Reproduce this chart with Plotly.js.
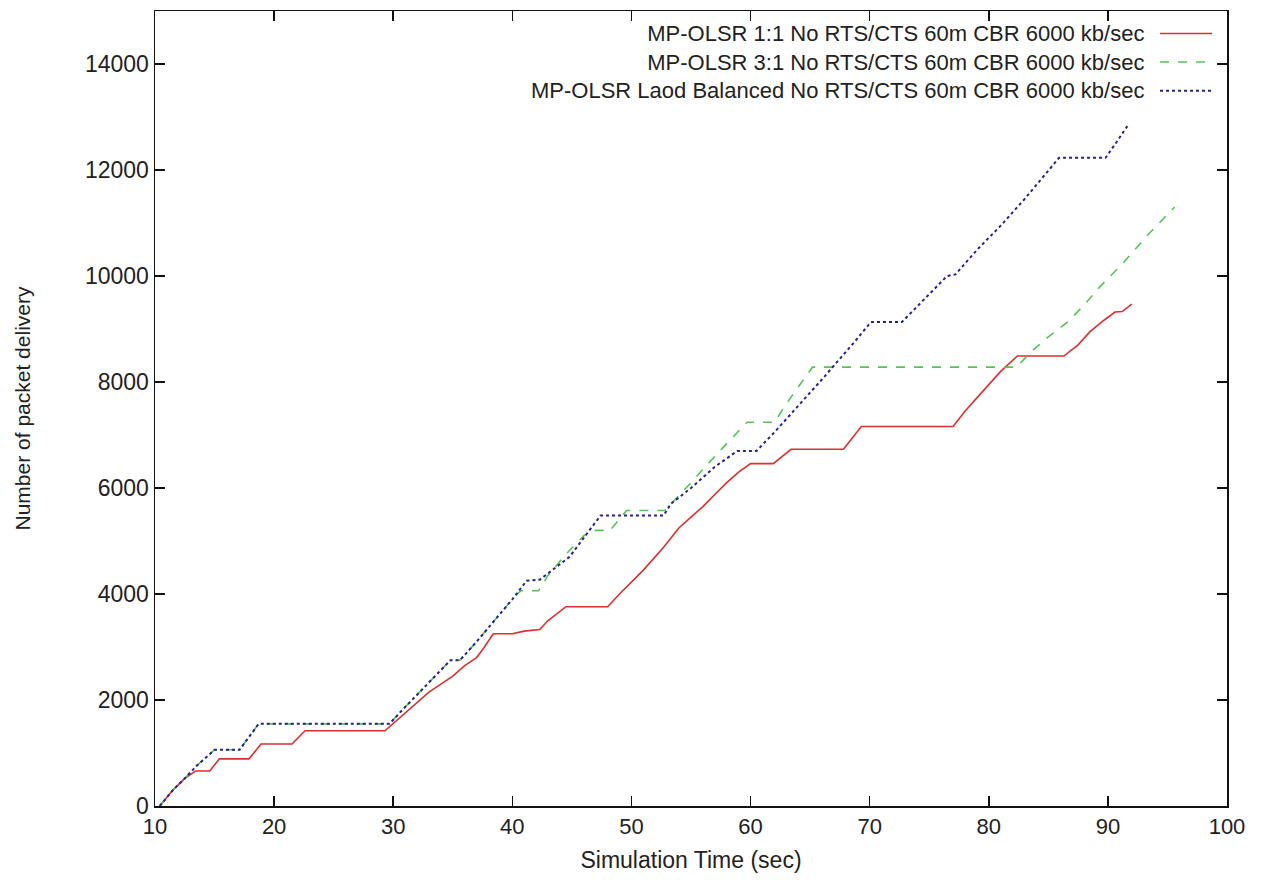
<!DOCTYPE html>
<html>
<head>
<meta charset="utf-8">
<script src="https://cdn.plot.ly/plotly-3.0.1.min.js"></script>
<style>
  html, body { margin: 0; padding: 0; background: #ffffff; }
  #chart { width: 1280px; height: 885px; }
</style>
</head>
<body>
<div id="chart"></div>
<script>
// ---- Data ----
const seriesNames = [
  "MP-OLSR 1:1 No RTS/CTS 60m CBR 6000 kb/sec",
  "MP-OLSR 3:1 No RTS/CTS 60m CBR 6000 kb/sec",
  "MP-OLSR Laod Balanced No RTS/CTS 60m CBR 6000 kb/sec"
];

// MP-OLSR 1:1
const time11 = [10.4, 11.5, 12.5, 13.4, 14.6, 15.4, 17.9, 18.9, 21.5, 22.6, 29.3, 30, 31, 32, 33, 34, 35, 36, 37, 37.6, 38.4, 40, 41, 42.3, 43, 44.5, 48, 49, 50.1, 51, 52.7, 54, 55, 56, 57.1, 58, 59, 60, 61.9, 63.4, 67.8, 69.3, 77, 78, 79, 80, 81, 82.4, 86.3, 87.5, 88.5, 89.7, 90.6, 91.2, 92];
const pkts11 = [0, 300, 520, 660, 660, 890, 890, 1170, 1170, 1420, 1420, 1560, 1750, 1950, 2150, 2300, 2450, 2650, 2800, 2980, 3250, 3250, 3300, 3330, 3500, 3760, 3760, 4000, 4250, 4450, 4880, 5250, 5450, 5650, 5900, 6100, 6300, 6460, 6460, 6730, 6730, 7160, 7160, 7450, 7700, 7950, 8200, 8490, 8490, 8700, 8950, 9170, 9320, 9330, 9470];

// MP-OLSR 3:1
const time31 = [10.4, 11.5, 12.5, 13.5, 15, 17.1, 18.7, 29.7, 30.5, 32, 33.5, 34.8, 35.6, 37, 38.5, 40, 40.7, 42.2, 43, 44.5, 46, 47, 48.2, 49.6, 52.8, 55, 57, 59.7, 62, 63.1, 65.2, 82.3, 83.7, 85, 86.6, 88, 89.3, 91.3, 93.5, 95.6];
const pkts31 = [0, 300, 520, 760, 1060, 1060, 1550, 1550, 1750, 2100, 2450, 2750, 2750, 3100, 3500, 3900, 4060, 4060, 4350, 4750, 5100, 5200, 5200, 5575, 5575, 6100, 6600, 7240, 7240, 7620, 8280, 8280, 8600, 8850, 9130, 9450, 9790, 10250, 10810, 11300];

// MP-OLSR Load Balanced
const timeLB = [10.4, 11.5, 12.5, 13.5, 15, 17.1, 18.7, 29.7, 30.5, 32, 33.5, 34.8, 35.6, 37, 38.5, 40, 41.2, 42.3, 44.8, 47.4, 52.7, 53.3, 55, 57, 58.9, 60.5, 62, 64, 66, 68.7, 70.1, 72.7, 74.5, 76.5, 77.2, 79, 81, 83, 85.9, 89.8, 90.8, 91.7];
const pktsLB = [0, 300, 520, 760, 1060, 1060, 1550, 1550, 1750, 2100, 2450, 2750, 2750, 3100, 3500, 3900, 4250, 4270, 4700, 5480, 5480, 5700, 6000, 6400, 6700, 6700, 7050, 7550, 8050, 8750, 9130, 9130, 9550, 10000, 10030, 10490, 10950, 11450, 12230, 12230, 12550, 12850];

const xTicks = [10, 20, 30, 40, 50, 60, 70, 80, 90, 100];
const yTicks = [0, 2000, 4000, 6000, 8000, 10000, 12000, 14000];

// ---- Styles ----
const lineStyles = [
  { color: "#d93030", width: 1.6, dash: "solid" },
  { color: "#55c455", width: 1.6, dash: "dash" },
  { color: "#252585", width: 2.0, dash: "dot" }
];

const traces = [
  { x: time11, y: pkts11, name: seriesNames[0], mode: "lines", line: lineStyles[0], showlegend: false },
  { x: time31, y: pkts31, name: seriesNames[1], mode: "lines", line: lineStyles[1], showlegend: false },
  { x: timeLB, y: pktsLB, name: seriesNames[2], mode: "lines", line: lineStyles[2], showlegend: false }
];

// Gnuplot-style key: right-aligned text block, line samples on its right
const keyFontSize = 22;
const keyTextX = 0.9235;
const keySampleX0 = 0.9375, keySampleX1 = 0.986;
const keyCenterY = 0.9358;                 // middle row
const keyRowStep = keyFontSize * 1.3 / 795; // plot height in px = 795
const keyRowsY = [keyCenterY + keyRowStep, keyCenterY, keyCenterY - keyRowStep];

const annotations = [{
  xref: "paper", yref: "paper", x: keyTextX, y: keyCenterY,
  xanchor: "right", yanchor: "middle", align: "right", showarrow: false, borderpad: 0,
  text: seriesNames.join("<br>"),
  font: { family: "Liberation Sans, Arial, sans-serif", size: keyFontSize, color: "#222" }
}];
const shapes = seriesNames.map((n, i) => ({
  type: "line", xref: "paper", yref: "paper",
  x0: keySampleX0, x1: keySampleX1, y0: keyRowsY[i], y1: keyRowsY[i],
  line: lineStyles[i]
}));

const axisCommon = {
  showline: true, linecolor: "#111", linewidth: 1.5, mirror: "ticks",
  ticks: "inside", ticklen: 10, tickwidth: 1.5, tickcolor: "#111",
  showgrid: false, zeroline: false
};

const layout = {
  width: 1280, height: 885,
  paper_bgcolor: "#ffffff", plot_bgcolor: "#ffffff",
  margin: { l: 155, r: 53, t: 11, b: 79 },
  font: { family: "Liberation Sans, Arial, sans-serif", color: "#222" },
  xaxis: Object.assign({}, axisCommon, {
    range: [10, 100], tickvals: xTicks, ticktext: xTicks.map(String),
    tickfont: { size: 22, color: "#222" },
    title: { text: "Simulation Time (sec)", font: { size: 23, color: "#222" }, standoff: 14 }
  }),
  yaxis: Object.assign({}, axisCommon, {
    range: [0, 15000], tickvals: yTicks, ticktext: yTicks.map(String),
    tickfont: { size: 23, color: "#222" },
    title: { text: "Number of packet delivery", font: { size: 21, color: "#222" }, standoff: 48 }
  }),
  annotations: annotations,
  shapes: shapes,
  showlegend: false
};

Plotly.newPlot("chart", traces, layout, { displayModeBar: false, staticPlot: true });
</script>
</body>
</html>
